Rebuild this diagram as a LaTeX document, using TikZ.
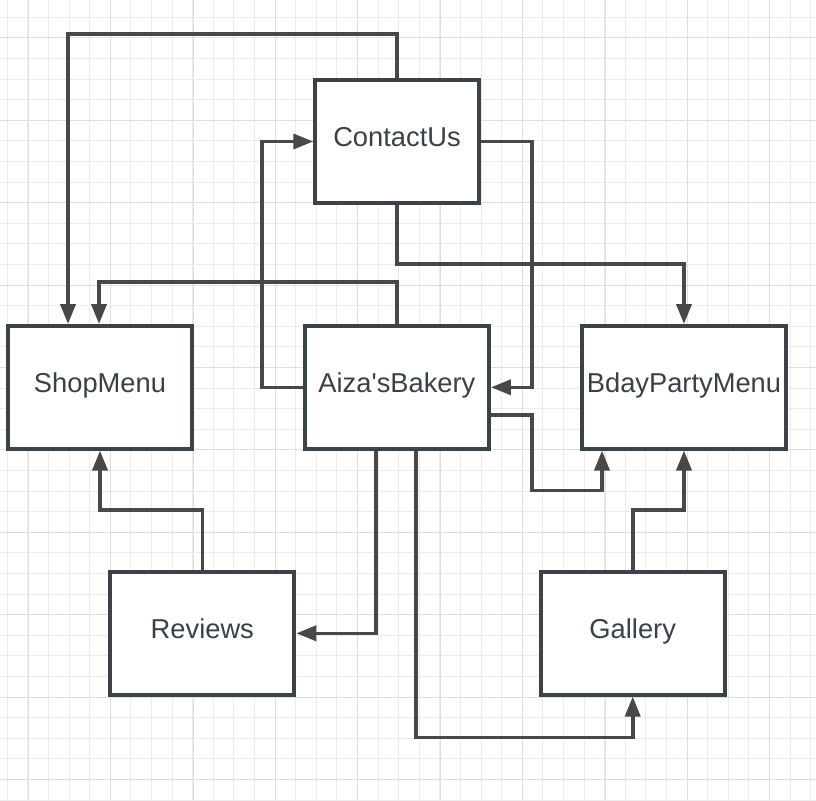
\documentclass[tikz,border=0pt]{standalone}
\usepackage{fontspec}
\setmainfont{Liberation Sans}
\usetikzlibrary{arrows.meta}

\definecolor{boxc}{RGB}{60,66,74}
\definecolor{linkc}{RGB}{72,72,72}
\definecolor{txtc}{RGB}{58,64,72}
\definecolor{gridmin}{RGB}{236,236,236}
\definecolor{gridmaj}{RGB}{222,222,222}

\begin{document}
\begin{tikzpicture}[x=1pt,y=-1pt,
		pagebox/.style={draw=boxc,line width=4pt,fill=white,minimum width=184pt,minimum height=122.5pt,inner sep=0pt,text=txtc,font=\fontsize{27.3}{31}\selectfont,text height=9.4pt,text depth=0pt},
		link/.style={draw=linkc,line width=3.6pt,-{Triangle[length=20pt,width=15pt]}}]
		
		\useasboundingbox (0,0) rectangle (816,800);
		
		% Cuadricula de fondo
		\fill[white] (0,0) rectangle (816,800);
		\foreach \i in {0,...,39} {
			\draw[gridmin,line width=1pt] ({7.3+20.6*\i},0) -- ({7.3+20.6*\i},800);
			\draw[gridmin,line width=1pt] (0,{17.3+20.6*\i}) -- (816,{17.3+20.6*\i});
		}
		\foreach \i in {0,...,9} {
			\draw[gridmaj,line width=1pt] ({28.3+82.4*\i},0) -- ({28.3+82.4*\i},800);
			\draw[gridmaj,line width=1pt] (0,{37.9+82.4*\i}) -- (816,{37.9+82.4*\i});
		}
		
		% Paginas
		\node[pagebox,minimum width=163.4pt] (contact) at (397,141.5) {ContactUs};
		\node[pagebox] (shop) at (100,387.3) {ShopMenu};
		\node[pagebox] (aiza) at (396.9,387.3) {Aiza\textquotesingle sBakery};
		\node[pagebox,minimum width=204pt] (bday) at (684,387.3) {BdayPartyMenu};
		\node[pagebox] (reviews) at (202.3,633.3) {Reviews};
		\node[pagebox] (gallery) at (632.7,633.3) {Gallery};
		
		% Enlaces
		\draw[link] (contact.north) -- ++(0,-44.3) -| ([xshift=-32pt]shop.north);
		\draw[link] (aiza.west) -- ++(-41,0) |- (contact.west);
		\draw[link] (contact.east) -- ++(51,0) |- (aiza.east);
		\draw[link] (contact.south) -- ++(0,59) -| (bday.north);
		\draw[link] (aiza.north) -- ++(0,-42) -| ([xshift=-1pt]shop.north);
		\draw[link] ([yshift=-27.7pt]aiza.east) -- ++(41,0) -- ++(0,75.5) -| ([xshift=-82pt]bday.south);
		\draw[link] ([xshift=-21pt]aiza.south) |- (reviews.east);
		\draw[link] ([xshift=19pt]aiza.south) -- ++(0,287) -| (gallery.south);
		\draw[link] (reviews.north) -- ++(0,-60) -| (shop.south);
		\draw[link] (gallery.north) -- ++(0,-60) -| (bday.south);
	\end{tikzpicture}
\end{document}
